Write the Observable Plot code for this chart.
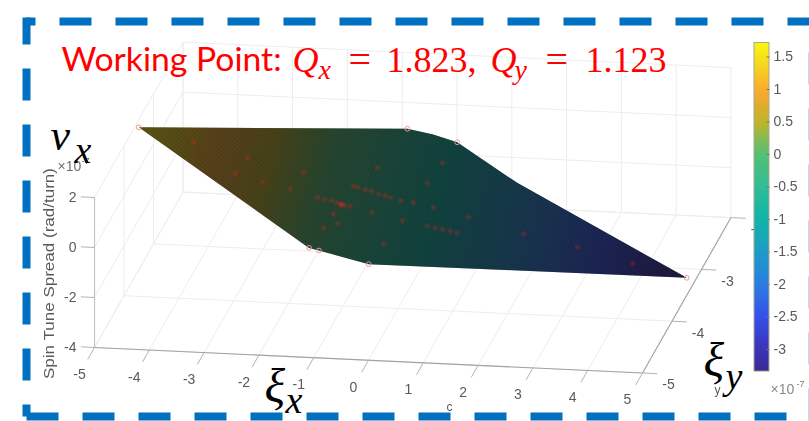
<!DOCTYPE html>
<html>
<head>
<meta charset="utf-8">
<style>html,body{margin:0;padding:0;background:#fff}svg{display:block}</style>
<script src="https://cdn.jsdelivr.net/npm/d3@7"></script>
<script src="https://cdn.jsdelivr.net/npm/@observablehq/plot@0.6"></script>
</head>
<body>
<div id="chart"></div>
<script>
// axis ticks
const xiXTicks = [-5,-4,-3,-2,-1,0,1,2,3,4,5];
const xiYTicks = [-5,-4,-3,-2];
const zTicks = [-4,-2,0,2];
const barTicks = [1.5,1,0.5,0,-0.5,-1,-1.5,-2,-2.5,-3];

// surface outline: chromaticity x, chromaticity y, spin tune spread (1e-7)
const edgeXiX = [-5,-0.75,-0.29,0.16,0.74,1.47,5,-0.14,-1.05,-1.23];
const edgeXiY = [-3.5,-2.29,-2.27,-2.29,-2.47,-2.69,-3.5,-4.73,-4.73,-4.73];
const edgeZ   = [1.7,-0.43,-0.66,-0.88,-1.17,-1.54,-3.3,-0.73,-0.28,-0.19];

// ringed scan corners
const ringXiX = [-5,-0.75,0.16,5,-0.14,-1.05,-1.23];
const ringXiY = [-3.5,-2.29,-2.29,-3.5,-4.73,-4.73,-4.73];
const ringZ   = [1.7,-0.43,-0.88,-3.3,-0.73,-0.28,-0.19];

// red sample points lying on the surface
const redXiX = [-4,-3.01,-3.06,-1.99,-2.55,-2.05,-0.87,-1.09,-1,-0.86,-0.75,-0.62,-0.5,-0.4,-1.55,-1.42,-1.3,-1.2,-1.11,-1.11,-1.11,-1.11,-1.05,-0.95,-1.15,-0.55,-0.21,0.01,0.37,0.11,0.05,0,0.44,0.58,0.71,0.85,0.98,1.01,2.03,3,4.02,-0.09,-1.18,-1];
const redXiY = [-3.5,-3.51,-3.83,-3.5,-3.85,-3.83,-3.08,-3.49,-3.5,-3.5,-3.5,-3.51,-3.51,-3.52,-3.85,-3.85,-3.84,-3.85,-3.86,-3.86,-3.86,-3.86,-3.86,-3.85,-4.05,-3.85,-3.52,-3.5,-3.49,-2.7,-3.1,-3.85,-3.82,-3.82,-3.81,-3.81,-3.81,-3.49,-3.51,-3.49,-3.51,-4.32,-4.33,-4.2];
const redZ   = [1.2,0.71,0.73,0.2,0.48,0.22,-0.37,-0.26,-0.3,-0.37,-0.43,-0.49,-0.55,-0.6,-0.03,-0.09,-0.15,-0.2,-0.25,-0.25,-0.25,-0.25,-0.28,-0.33,-0.23,-0.53,-0.7,-0.81,-0.99,-0.86,-0.83,-0.8,-1.02,-1.09,-1.16,-1.23,-1.29,-1.31,-1.82,-2.3,-2.81,-0.76,-0.21,-0.3];

// colour bar
const barRange = [-3.34,1.715];
const barStops = [-3.34,-3,-2.5,-2,-1.5,-1,-0.5,0,0.5,0.8,1,1.3,1.715];
const barColors = ["#3b2a96","#3b33b8","#3650ec","#2a7de0","#1d9cc5","#10b5a8","#30bd95","#55bf75","#c0b42c","#e6aa30","#fbac2f","#f7cf22","#f8f80f"];

// labels
const zLabel = "Spin Tune Spread (rad/turn)";
const wpLabel = "Working Point:";
const qXValue = "1.823,";
const qYValue = "1.123";

// viewing geometry of the 3-D box
const view = {ox:94, oy:347, xx:54.8, xy:2.55, yx:29.5, yy:-51.8, zy:-25};
const px = (a,b,c) => view.ox + view.xx*(a+5) + view.yx*(b+5);
const py = (a,b,c) => view.oy + view.xy*(a+5) + view.yy*(b+5) + view.zy*(c+4);
const P = (a,b,c) => ({X:px(a,b,c),Y:py(a,b,c)});
const seg = (p,q,v) => ({x1:px(...p),y1:py(...p),x2:px(...q),y2:py(...q),v});

const grid = [
  ...xiXTicks.map(t=>seg([t,-5,-4],[t,-2,-4])),
  ...xiYTicks.map(t=>seg([-5,t,-4],[5,t,-4])),
  ...xiXTicks.map(t=>seg([t,-2,-4],[t,-2,2])),
  ...zTicks.map(t=>seg([-5,-2,t],[5,-2,t])),
  ...xiYTicks.map(t=>seg([-5,t,-4],[-5,t,2])),
  ...zTicks.map(t=>seg([-5,-5,t],[-5,-2,t]))
];
const axes = [seg([-5,-5,-4],[5,-5,-4]),seg([5,-5,-4],[5,-2,-4])];
const zAxis = [seg([-5,-5,-4],[-5,-5,2])];
const ticks = [
  ...xiXTicks.map(t=>seg([t,-5,-4],[t,-5.23,-4])),
  ...xiYTicks.map(t=>seg([5,t,-4],[5.27,t,-4])),
  ...zTicks.map(t=>seg([-5,-5,t],[-5.25,-5,t]))
];
const surface = edgeXiX.map((a,i)=>P(a,edgeXiY[i],edgeZ[i]));
const rings = ringXiX.map((a,i)=>P(a,ringXiY[i],ringZ[i]));
const reds = redXiX.map((a,i)=>P(a,redXiY[i],redZ[i]));

const barY = v => 154 - 65*v;
const barCells = d3.range(170).map(i=>{
  const f=i/170, g=(i+1)/170;
  const lo=barRange[0]+f*(barRange[1]-barRange[0]), hi=barRange[0]+g*(barRange[1]-barRange[0]);
  return {y1:barY(lo),y2:barY(hi),z:(lo+hi)/2};
});

const note = (s,x,y,o={}) => Plot.text([s],{x:()=>x,y:()=>y,text:d=>d,textAnchor:"start",...o});
const gray = {fill:"#5a5a5a",fontFamily:"Liberation Sans",fontSize:14,imageFilter:"blur(0.4px)"};
const serif = "Liberation Serif";
const red = {fill:"#ff0000"};

const defs = (index, scales) => {
  const d = d3.create("svg:defs");
  const L = P(edgeXiX[0],edgeXiY[0],edgeZ[0]), R = P(edgeXiX[6],edgeXiY[6],edgeZ[6]);
  const g = d.append("linearGradient").attr("id","surfaceGradient").attr("gradientUnits","userSpaceOnUse")
    .attr("x1",L.X).attr("y1",L.Y).attr("x2",R.X).attr("y2",R.Y);
  const zs = [1.7,1.3,1,0.5,0,-0.5,-1,-1.5,-2,-2.5,-3,-3.3];
  zs.forEach(z=>g.append("stop").attr("offset",(1.7-z)/5).attr("stop-color",scales.color(z)));
  const p = d.append("pattern").attr("id","mesh").attr("width",3).attr("height",3)
    .attr("patternUnits","userSpaceOnUse").attr("patternTransform","rotate(40)");
  p.append("rect").attr("width",3).attr("height",1).attr("fill","#000").attr("fill-opacity",0.12);
  return d.node();
};

const chart = Plot.plot({
  width:809,height:421,margin:0,
  style:{background:"#fff"},
  x:{domain:[0,809],range:[0,809],axis:null},
  y:{domain:[0,421],range:[0,421],axis:null},
  color:{type:"linear",domain:barStops,range:barColors,interpolate:"rgb"},
  marks:[
    defs,
    Plot.link(grid,{x1:"x1",y1:"y1",x2:"x2",y2:"y2",stroke:"#ededed",strokeWidth:1}),
    Plot.link(zAxis,{x1:"x1",y1:"y1",x2:"x2",y2:"y2",stroke:"#c4c4c4",strokeWidth:1.2}),
    Plot.link(axes,{x1:"x1",y1:"y1",x2:"x2",y2:"y2",stroke:"#a2a2a2",strokeWidth:1.1}),
    Plot.link(ticks,{x1:"x1",y1:"y1",x2:"x2",y2:"y2",stroke:"#b4b4b4",strokeWidth:1}),
    Plot.text(xiXTicks,{x:t=>px(t,-5,-4),y:t=>py(t,-5,-4),text:d=>String(d),dx:-15,dy:27,...gray}),
    Plot.text(xiYTicks,{x:t=>px(5,t,-4),y:t=>py(5,t,-4),text:d=>String(d),dx:26,dy:12,...gray}),
    Plot.text(zTicks,{x:t=>px(-5,-5,t),y:t=>py(-5,-5,t),text:d=>String(d),dx:-18,textAnchor:"end",...gray}),
    note("×10",57,166,{...gray,fill:"#6f6f6f"}),
    note("-7",81,161,{...gray,fontSize:9}),
    Plot.text([zLabel],{x:()=>49,y:()=>273,text:d=>d,rotate:-90,...gray}),
    note("c",446,407,{...gray,fontSize:12}),
    note("y",714,390,{...gray,fontSize:12}),
    Plot.line(surface,{x:"X",y:"Y",curve:"linear-closed",fill:"#121212",stroke:"none",imageFilter:"blur(0.3px)"}),
    Plot.line(surface,{x:"X",y:"Y",curve:"linear-closed",fill:"url(#surfaceGradient)",fillOpacity:0.3,stroke:"none",imageFilter:"blur(0.3px)"}),
    Plot.line(surface,{x:"X",y:"Y",curve:"linear-closed",fill:"url(#mesh)",stroke:"none"}),
    Plot.dot(reds,{x:"X",y:"Y",r:2.3,fill:"#e02a1c",fillOpacity:0.38,imageFilter:"blur(0.9px)"}),
    Plot.dot(rings,{x:"X",y:"Y",r:2.4,stroke:"#e79a9a",strokeWidth:1,fill:"none"}),
    Plot.rect(barCells,{x1:()=>754,x2:()=>769,y1:"y1",y2:"y2",fill:"z",shapeRendering:"crispEdges"}),
    Plot.rect([0],{x1:()=>754,x2:()=>769,y1:()=>barY(barRange[0]),y2:()=>barY(barRange[1]),stroke:"#a8a890",strokeWidth:1,fill:"none"}),
    Plot.link(barTicks,{x1:()=>766,x2:()=>769,y1:barY,y2:barY,stroke:"#777",strokeWidth:1}),
    Plot.text(barTicks,{x:()=>773,y:barY,text:d=>String(d),textAnchor:"start",...gray}),
    note("×10",770,389,{...gray,fill:"#8a8a8a"}),
    note("-7",796,384,{...gray,fontSize:9,fill:"#777"}),
    // dashed frame
    Plot.line([{X:26,Y:21},{X:815,Y:21}],{x:"X",y:"Y",stroke:"#0070c0",strokeWidth:8,strokeDasharray:"32,24",strokeDashoffset:23,strokeLinecap:"butt"}),
    Plot.line([{X:26,Y:17},{X:26,Y:416}],{x:"X",y:"Y",stroke:"#0070c0",strokeWidth:8,strokeDasharray:"32,24",strokeDashoffset:5,strokeLinecap:"butt"}),
    Plot.line([{X:26,Y:416},{X:809,Y:416}],{x:"X",y:"Y",stroke:"#0070c0",strokeWidth:8,strokeDasharray:"32,24",strokeLinecap:"butt"}),
    Plot.line([{X:808.5,Y:52},{X:808.5,Y:421}],{x:"X",y:"Y",stroke:"#a8d0ee",strokeWidth:1.5,strokeDasharray:"32,24",strokeLinecap:"butt"}),
    // working point title
    note(wpLabel,61,60,{...red,fontFamily:"Lato",fontSize:33.7}),
    note("Q",292,59.5,{...red,fontFamily:serif,fontStyle:"italic",fontSize:36}),
    note("x",318,70,{...red,fontFamily:serif,fontStyle:"italic",fontSize:28}),
    note("=",348,59.5,{...red,fontFamily:serif,fontSize:40}),
    note(qXValue,386,59.5,{...red,fontFamily:serif,fontSize:36}),
    note("Q",490,59.5,{...red,fontFamily:serif,fontStyle:"italic",fontSize:36}),
    note("y",514,70,{...red,fontFamily:serif,fontStyle:"italic",fontSize:28}),
    note("=",545,59.5,{...red,fontFamily:serif,fontSize:40}),
    note(qYValue,585,59.5,{...red,fontFamily:serif,fontSize:36}),
    // hand-set symbols
    note("ν",50,135,{fill:"#000",fontFamily:serif,fontStyle:"italic",fontSize:44}),
    note("x",74,150,{fill:"#000",fontFamily:serif,fontStyle:"italic",fontSize:38}),
    note("ξ",264,386,{fill:"#000",fontFamily:serif,fontStyle:"italic",fontSize:48}),
    note("x",285,400,{fill:"#000",fontFamily:serif,fontStyle:"italic",fontSize:38}),
    note("ξ",703,360,{fill:"#000",fontFamily:serif,fontStyle:"italic",fontSize:48}),
    note("y",725,376,{fill:"#000",fontFamily:serif,fontStyle:"italic",fontSize:38})
  ]
});
d3.select(chart).selectAll("text").filter(function(){return this.textContent===zLabel;})
  .attr("textLength",211).attr("lengthAdjust","spacingAndGlyphs");
document.getElementById("chart").appendChild(chart);
</script>
</body>
</html>
